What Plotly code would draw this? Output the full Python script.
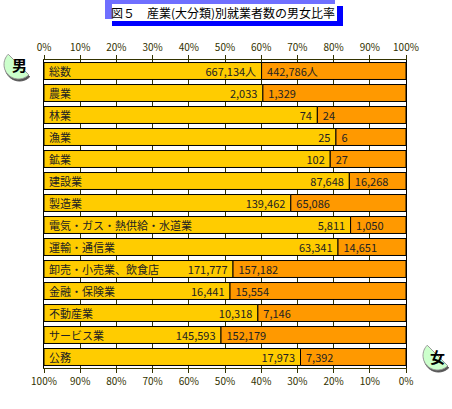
import math
import plotly.graph_objects as go

# 産業(大分類)別就業者数
industries = ['総数', '農業', '林業', '漁業', '鉱業', '建設業', '製造業',
              '電気・ガス・熱供給・水道業', '運輸・通信業', '卸売・小売業、飲食店',
              '金融・保険業', '不動産業', 'サービス業', '公務']
male = [667134, 2033, 74, 25, 102, 87648, 139462,
        5811, 63341, 171777, 16441, 10318, 145593, 17973]
female = [442786, 1329, 24, 6, 27, 16268, 65086,
          1050, 14651, 157182, 15554, 7146, 152179, 7392]

title_text = '図５　産業(大分類)別就業者数の男女比率'
pct_ticks = list(range(0, 101, 10))
pct_labels = [f'{v}%' for v in pct_ticks]

male_pct = [m / (m + f) * 100 for m, f in zip(male, female)]
female_pct = [f / (m + f) * 100 for m, f in zip(male, female)]
NB = '\u00a0'
male_txt = [f'{v:,}' + ('人' if i == 0 else '') + NB for i, v in enumerate(male)]
female_txt = [NB + f'{v:,}' + ('人' if i == 0 else '') for i, v in enumerate(female)]

W, H = 452, 409
L, R, T, B = 44, 406, 60, 368
FONT = 'Noto Sans CJK JP'
AXC = '#333300'


def px(x):
    return (x - L) / (R - L)


def py(y):
    return (B - y) / (B - T)


fig = go.Figure()

fig.add_trace(go.Bar(
    y=industries, x=male_pct, orientation='h', xaxis='x', yaxis='y',
    marker=dict(color='#FFCC00', line=dict(color='black', width=1)),
    text=male_txt, textposition='inside', insidetextanchor='end',
    textangle=0, constraintext='none',
    textfont=dict(family=FONT, size=11, color='#222222'),
    hoverinfo='skip', name='男'))

fig.add_trace(go.Bar(
    y=industries, x=female_pct, orientation='h', xaxis='x2', yaxis='y',
    marker=dict(color='#FF9900', line=dict(color='black', width=1)),
    text=female_txt, textposition='inside', insidetextanchor='end',
    textangle=0, constraintext='none',
    textfont=dict(family=FONT, size=11, color='#222222'),
    hoverinfo='skip', name='女'))

# 産業名(棒の左端)
annotations = []
for name in industries:
    annotations.append(dict(
        x=0, y=name, xref='x', yref='y', xanchor='left', yanchor='middle',
        xshift=3, text=name, showarrow=False,
        font=dict(family=FONT, size=11, color='#222222')))

# タイトル
annotations.append(dict(
    x=px(223), y=py(13), xref='paper', yref='paper', text=title_text,
    showarrow=False, xanchor='center', yanchor='middle',
    font=dict(family=FONT, size=12, color='black')))

shapes = [
    dict(type='rect', xref='paper', yref='paper', x0=px(105), x1=px(335),
         y0=py(0), y1=py(4), fillcolor='#6F6FFF', line_width=0, layer='below'),
    dict(type='rect', xref='paper', yref='paper', x0=px(105), x1=px(112),
         y0=py(0), y1=py(19), fillcolor='#6F6FFF', line_width=0, layer='below'),
    dict(type='rect', xref='paper', yref='paper', x0=px(112), x1=px(343),
         y0=py(21), y1=py(26), fillcolor='#0000FF', line_width=0, layer='below'),
    dict(type='rect', xref='paper', yref='paper', x0=px(337), x1=px(343),
         y0=py(6), y1=py(26), fillcolor='#0000FF', line_width=0, layer='below'),
]


def half_disc(cx, cy, r, dx=0, dy=0):
    pts = []
    for k in range(31):
        t = math.radians(225 - 180 * k / 30)
        pts.append((cx + dx + r * math.cos(t), cy + dy + r * math.sin(t)))
    d = 'M ' + ' L '.join(f'{px(x):.4f},{py(y):.4f}' for x, y in pts) + ' Z'
    return d


def icon(cx, cy, char, tx, ty):
    shapes.append(dict(type='path', xref='paper', yref='paper',
                       path=half_disc(cx, cy, 14.5, 1, 2),
                       fillcolor='#555555', line=dict(color='#555555', width=1)))
    shapes.append(dict(type='path', xref='paper', yref='paper',
                       path=half_disc(cx, cy, 14.5),
                       fillcolor='#CCFFCC', line=dict(color='#999999', width=1)))
    annotations.append(dict(
        x=px(tx), y=py(ty), xref='paper', yref='paper', text='<b>' + char + '</b>',
        showarrow=False, xanchor='center', yanchor='middle',
        font=dict(family=FONT, size=15, color='black')))


icon(18.5, 64.5, '男', 19, 64)
icon(437.5, 355.5, '女', 437, 356)

axis_common = dict(
    range=[0, 100], tickvals=pct_ticks, ticktext=pct_labels, ticks='outside',
    ticklen=4, tickcolor=AXC, tickwidth=1, showline=True, linecolor=AXC,
    linewidth=1, zeroline=False, fixedrange=True,
    tickfont=dict(family=FONT, size=10, color=AXC))

fig.update_layout(
    width=W, height=H, autosize=False,
    margin=dict(l=L, r=W - R, t=T, b=H - B, pad=0),
    paper_bgcolor='white', plot_bgcolor='white',
    barmode='overlay', bargap=0.23, showlegend=False,
    xaxis=dict(side='top', showgrid=True, gridcolor=AXC, gridwidth=1,
               **axis_common),
    xaxis2=dict(overlaying='x', side='bottom', anchor='y', showgrid=False,
                autorange=False, **{**axis_common, 'range': [100, 0]}),
    yaxis=dict(autorange='reversed', showticklabels=False, ticks='',
               showgrid=False, showline=True, mirror=True, linecolor='black',
               linewidth=1, zeroline=False, fixedrange=True),
    annotations=annotations,
    shapes=shapes,
)

# ページ余白をなくして図を左上に合わせる
fig.write_html('out.html', config={'displayModeBar': False},
               post_script="document.body.style.margin='0';")
